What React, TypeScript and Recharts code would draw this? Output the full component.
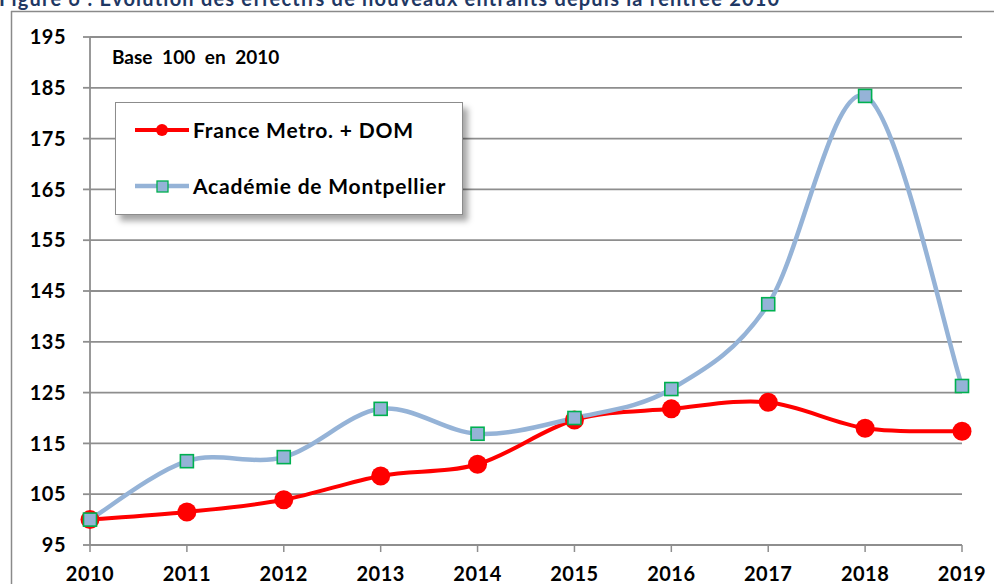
import React from "react";
import { LineChart, Line, XAxis, YAxis, CartesianGrid, Legend } from "recharts";

const years = ["2010", "2011", "2012", "2013", "2014", "2015", "2016", "2017", "2018", "2019"];
const franceMetroDom = [100, 101.5, 103.9, 108.6, 110.9, 119.6, 121.8, 123.1, 118.0, 117.4];
const academieMontpellier = [100, 111.5, 112.3, 121.8, 116.9, 120.0, 125.7, 142.4, 183.4, 126.3];
const yTicks = [95, 105, 115, 125, 135, 145, 155, 165, 175, 185, 195];

const seriesNames = ["France Metro. + DOM", "Académie de Montpellier"];
const titleText = "Figure 6 : Évolution des effectifs de nouveaux entrants depuis la rentrée 2010";
const baseText = "Base 100 en 2010";

const data = years.map((y, i) => ({
  year: y,
  france: franceMetroDom[i],
  montpellier: academieMontpellier[i],
}));

const FONT = "Lato, 'Open Sans', sans-serif";
const RED = "#FF0000";
const BLUE = "#95B3D7";
const GREEN = "#00B050";
const GRID = "#8E8E8E";

// Excel-like smoothed curve (Catmull-Rom through points)
const smoothCurve = (context: any) => {
  let pts: [number, number][] = [];
  return {
    areaStart() {},
    areaEnd() {},
    lineStart() {
      pts = [];
    },
    lineEnd() {
      const n = pts.length;
      if (!n) return;
      context.moveTo(pts[0][0], pts[0][1]);
      for (let i = 0; i < n - 1; i++) {
        const p0 = pts[Math.max(i - 1, 0)];
        const p1 = pts[i];
        const p2 = pts[i + 1];
        const p3 = pts[Math.min(i + 2, n - 1)];
        context.bezierCurveTo(
          p1[0] + (p2[0] - p0[0]) / 6,
          p1[1] + (p2[1] - p0[1]) / 6,
          p2[0] - (p3[0] - p1[0]) / 6,
          p2[1] - (p3[1] - p1[1]) / 6,
          p2[0],
          p2[1]
        );
      }
    },
    point(x: number, y: number) {
      pts.push([+x, +y]);
    },
  };
};

const RedDot = (props: any) => {
  const { cx, cy, index } = props;
  if (cx == null || cy == null) return null;
  return <circle key={`r${index}`} cx={cx} cy={cy} r={9.5} fill={RED} />;
};

const BlueDot = (props: any) => {
  const { cx, cy, index } = props;
  if (cx == null || cy == null) return null;
  const s = 13;
  return (
    <rect
      key={`b${index}`}
      x={cx - s / 2}
      y={cy - s / 2}
      width={s}
      height={s}
      fill={BLUE}
      stroke={GREEN}
      strokeWidth={1.6}
    />
  );
};

const LegendBox = () => (
  <div
    style={{
      width: 346,
      height: 111,
      border: "1px solid #8C8C8C",
      background: "#fff",
      boxShadow: "5px 6px 6px rgba(0,0,0,0.35)",
      position: "relative",
      fontFamily: FONT,
      fontWeight: 700,
      fontSize: 21,
      letterSpacing: 0.8,
      color: "#000",
      lineHeight: "24px",
    }}
  >
    <svg width={80} height={111} style={{ position: "absolute", left: 0, top: 0 }}>
      <line x1={19} y1={27} x2={73} y2={27} stroke={RED} strokeWidth={4} />
      <circle cx={46} cy={27} r={6} fill={RED} />
      <line x1={19} y1={83} x2={73} y2={83} stroke={BLUE} strokeWidth={4.5} />
      <rect x={41} y={78} width={11} height={11} fill={BLUE} stroke={GREEN} strokeWidth={1.3} />
    </svg>
    <div style={{ position: "absolute", left: 77, top: 15, whiteSpace: "nowrap" }}>{seriesNames[0]}</div>
    <div style={{ position: "absolute", left: 77, top: 71, whiteSpace: "nowrap" }}>{seriesNames[1]}</div>
  </div>
);

const tickStyle = { fill: "#000", fontFamily: FONT, fontWeight: 700, fontSize: 20, letterSpacing: 0.5 };

export default function App() {
  return (
    <div
      style={{
        position: "absolute",
        left: 0,
        top: 0,
        width: 994,
        height: 584,
        overflow: "hidden",
        background: "#fff",
        fontFamily: FONT,
      }}
    >
      <svg width={994} height={584} style={{ position: "absolute", left: 0, top: 0 }}>
        <text x={-1} y={6} fill="#1F3864" fontFamily={FONT} fontWeight={700} fontSize={20} letterSpacing={1.2}>
          {titleText}
        </text>
        <line x1={11} y1={11.5} x2={994} y2={11.5} stroke="#8A8A8A" strokeWidth={1.5} />
        <line x1={11.5} y1={11} x2={11.5} y2={584} stroke="#8A8A8A" strokeWidth={1.5} />
        <text x={112} y={64} fill="#000" fontFamily={FONT} fontWeight={700} fontSize={19} wordSpacing={5}>
          {baseText}
        </text>
      </svg>
      <div style={{ position: "absolute", left: 0, top: 0 }}>
        <LineChart
          width={994}
          height={584}
          data={data}
          margin={{ top: 37, right: 32, bottom: 0, left: 0 }}
        >
          <CartesianGrid horizontal vertical={false} stroke={GRID} strokeWidth={1.8} />
          <XAxis
            dataKey="year"
            height={39}
            tickSize={7}
            tickMargin={15}
            axisLine={{ stroke: GRID, strokeWidth: 1.8 }}
            tickLine={{ stroke: GRID, strokeWidth: 1.5 }}
            tick={tickStyle}
            interval={0}
          />
          <YAxis
            width={90}
            domain={[95, 195]}
            ticks={yTicks}
            tickSize={7}
            tickMargin={17}
            axisLine={{ stroke: GRID, strokeWidth: 1.8 }}
            tickLine={{ stroke: GRID, strokeWidth: 1.8 }}
            tick={tickStyle}
            interval={0}
          />
          <Legend
            layout="vertical"
            align="center"
            verticalAlign="middle"
            content={<LegendBox />}
            wrapperStyle={{ position: "absolute", left: 115, top: 102, width: 348, height: 113 }}
          />
          <Line
            dataKey="france"
            name={seriesNames[0]}
            type={smoothCurve as any}
            stroke={RED}
            strokeWidth={4}
            dot={<RedDot />}
            activeDot={false}
            isAnimationActive={false}
          />
          <Line
            dataKey="montpellier"
            name={seriesNames[1]}
            type={smoothCurve as any}
            stroke={BLUE}
            strokeWidth={4.5}
            dot={<BlueDot />}
            activeDot={false}
            isAnimationActive={false}
          />
        </LineChart>
      </div>
    </div>
  );
}
